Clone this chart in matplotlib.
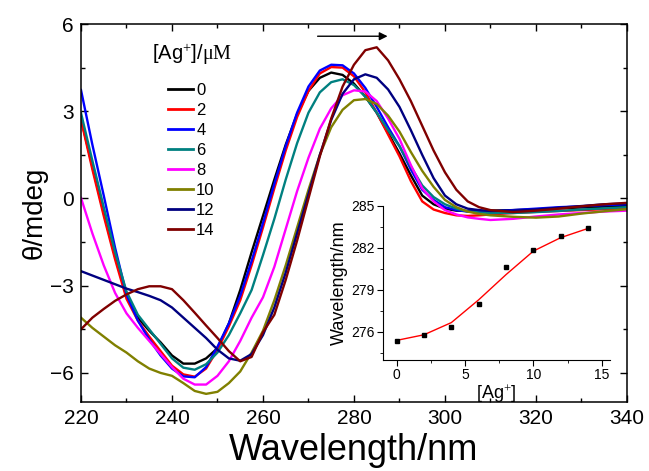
import matplotlib
matplotlib.use("Agg")
import matplotlib.pyplot as plt
from matplotlib.ticker import MultipleLocator

plt.rcParams['font.family'] = ['Liberation Sans', 'DejaVu Sans']
plt.rcParams['mathtext.fontset'] = 'custom'
plt.rcParams['mathtext.rm'] = 'Liberation Serif'
plt.rcParams['mathtext.it'] = 'Liberation Serif:italic'

# === data ===
wl = [220, 222.5, 225, 227.5, 230, 232.5, 235, 237.5, 240, 242.5, 245, 247.5, 250,
      252.5, 255, 257.5, 260, 262.5, 265, 267.5, 270, 272.5, 275, 277.5, 280,
      282.5, 285, 287.5, 290, 292.5, 295, 297.5, 300, 302.5, 305, 307.5, 310,
      315, 320, 325, 330, 335, 340]

cd_0 = [2.75, 1.1, -0.5, -2.0, -3.35, -4.1, -4.55, -4.95, -5.4, -5.68, -5.68, -5.5, -5.15,
        -4.3, -3.15, -1.85, -0.6, 0.65, 1.85, 2.9, 3.7, 4.15, 4.33, 4.25, 3.95,
        3.5, 2.95, 2.25, 1.55, 0.8, 0.1, -0.2, -0.35, -0.42, -0.43, -0.43, -0.42,
        -0.4, -0.37, -0.34, -0.31, -0.28, -0.25]
cd_2 = [2.7, 1.0, -0.6, -2.1, -3.45, -4.2, -4.75, -5.25, -5.75, -6.05, -6.13, -5.85, -5.2,
        -4.4, -3.5, -2.3, -1.0, 0.35, 1.65, 2.8, 3.7, 4.3, 4.52, 4.5, 4.2,
        3.65, 2.95, 2.2, 1.45, 0.6, -0.1, -0.38, -0.5, -0.58, -0.6, -0.58, -0.55,
        -0.5, -0.46, -0.43, -0.4, -0.37, -0.35]
cd_4 = [3.73, 1.85, 0.1, -1.7, -3.3, -4.2, -4.85, -5.4, -5.85, -6.12, -6.15, -5.8, -5.1,
        -4.3, -3.35, -2.15, -0.85, 0.5, 1.8, 2.95, 3.85, 4.4, 4.6, 4.58, 4.3,
        3.8, 3.15, 2.45, 1.8, 1.0, 0.3, -0.05, -0.3, -0.4, -0.45, -0.45, -0.45,
        -0.4, -0.35, -0.3, -0.27, -0.23, -0.2]
cd_6 = [2.94, 1.3, -0.3, -1.85, -3.2, -4.0, -4.5, -5.0, -5.5, -5.82, -5.89, -5.7, -5.3,
        -4.7, -3.95, -3.15, -1.95, -0.7, 0.65, 1.9, 2.95, 3.65, 4.0, 4.1, 3.9,
        3.5, 2.95, 2.35, 1.8, 1.1, 0.45, 0.05, -0.2, -0.35, -0.45, -0.48, -0.5,
        -0.5, -0.47, -0.43, -0.38, -0.34, -0.3]
cd_8 = [0.02, -1.2, -2.3, -3.25, -3.95, -4.45, -4.9, -5.35, -5.8, -6.2, -6.4, -6.4, -6.1,
        -5.6, -4.9, -4.1, -3.4, -2.35, -1.05, 0.25, 1.4, 2.4, 3.1, 3.55, 3.72,
        3.68, 3.35, 2.75, 2.05, 1.15, 0.35, -0.1, -0.4, -0.55, -0.65, -0.7, -0.74,
        -0.7, -0.62, -0.55, -0.5, -0.45, -0.42]
cd_10 = [-4.1, -4.45, -4.75, -5.05, -5.3, -5.6, -5.85, -6.0, -6.1, -6.35, -6.62, -6.72, -6.65,
         -6.35, -5.95, -5.3, -4.55, -3.5, -2.3, -1.0, 0.3, 1.5, 2.45, 3.05, 3.38,
         3.42, 3.25, 2.85, 2.3, 1.6, 0.95, 0.4, -0.05, -0.3, -0.45, -0.53, -0.58,
         -0.63, -0.66, -0.62, -0.52, -0.44, -0.37]
cd_12 = [-2.5, -2.65, -2.8, -2.95, -3.1, -3.22, -3.35, -3.5, -3.75, -4.1, -4.45, -4.8, -5.2,
         -5.5, -5.58, -5.35, -4.7, -3.75, -2.55, -1.2, 0.15, 1.5, 2.7, 3.6, 4.1,
         4.27, 4.15, 3.75, 3.15, 2.35, 1.5, 0.7, 0.1, -0.2, -0.35, -0.4, -0.43,
         -0.42, -0.38, -0.32, -0.26, -0.2, -0.17]
cd_14 = [-4.5, -4.1, -3.8, -3.52, -3.3, -3.12, -3.02, -3.02, -3.12, -3.5, -3.93, -4.37, -4.8,
         -5.25, -5.6, -5.45, -4.6, -4.0, -2.8, -1.45, 0.0, 1.45, 2.75, 3.85, 4.6,
         5.1, 5.2, 4.75, 4.1, 3.35, 2.5, 1.65, 0.9, 0.3, -0.1, -0.3, -0.4,
         -0.47, -0.42, -0.35, -0.27, -0.2, -0.15]

conc_labels = ["0", "2", "4", "6", "8", "10", "12", "14"]
colors = ["#000000", "#FF0000", "#0000FF", "#008080", "#FF00FF", "#808000", "#000080", "#800000"]

# inset: peak position vs [Ag+]
ag = [0, 2, 4, 6, 8, 10, 12, 14]
peak_wl = [275.37, 275.78, 276.38, 277.99, 280.63, 281.85, 282.86, 283.43]
peak_fit = [275.4, 275.8, 276.67, 278.3, 280.1, 281.78, 282.74, 283.4]

fig = plt.figure(figsize=(6.49, 4.71), dpi=100)
ax = fig.add_axes([0.1248, 0.1465, 0.8412, 0.8025])

for y, c, lab in zip([cd_0, cd_2, cd_4, cd_6, cd_8, cd_10, cd_12, cd_14], colors, conc_labels):
    ax.plot(wl, y, color=c, lw=1.7, label=lab)

ax.set_xlim(220, 340)
ax.set_ylim(-7, 6)
ax.xaxis.set_minor_locator(MultipleLocator(10))
ax.yaxis.set_minor_locator(MultipleLocator(1.5))
ax.tick_params(which='both', direction='in', top=True, right=True, width=1)
ax.tick_params(which='major', length=5, labelsize=15, pad=5)
ax.tick_params(which='minor', length=3)
ax.set_xticks([220, 240, 260, 280, 300, 320, 340])
ax.set_yticks([-6, -3, 0, 3, 6])
for s in ax.spines.values():
    s.set_linewidth(1.1)
ax.set_xlabel("Wavelength/nm", fontsize=26, labelpad=4)
ax.set_ylabel("θ/mdeg", fontsize=20, labelpad=2)

ax.annotate("", xy=(288, 5.58), xytext=(271.4, 5.58),
            arrowprops=dict(arrowstyle='-|>', color='k', lw=1, mutation_scale=12))

# legend title drawn separately, entries below it
ax.text(0.203, 0.92, "[Ag$^{+}$]/$\\mathrm{\\mu M}$", transform=ax.transAxes,
        fontsize=14.5, ha='center', va='center')
leg = ax.legend(loc='upper left', bbox_to_anchor=(0.159, 0.844), frameon=False,
                fontsize=12, handlelength=1.5, handletextpad=0.2, labelspacing=0.3,
                borderaxespad=0, borderpad=0)
for h in leg.get_lines():
    h.set_linewidth(2)

# inset
ins = fig.add_axes([0.590, 0.2357, 0.350, 0.327])
ins.patch.set_alpha(0)
ins.plot(ag, peak_fit, color='red', lw=1)
ins.plot(ag, peak_wl, 's', color='black', ms=3.5)
ins.set_xlim(-1, 15.6)
ins.set_ylim(274, 285)
ins.spines['top'].set_visible(False)
ins.spines['right'].set_visible(False)
ins.xaxis.set_major_locator(MultipleLocator(5))
ins.xaxis.set_minor_locator(MultipleLocator(2.5))
ins.set_yticks([276, 279, 282, 285])
ins.yaxis.set_minor_locator(MultipleLocator(1.5))
ins.tick_params(which='both', direction='out', labelsize=10, pad=2)
ins.tick_params(which='major', length=4)
ins.tick_params(which='minor', length=2.5)
ins.set_xlabel("[Ag$^{+}$]", fontsize=13, labelpad=0)
ins.set_ylabel("Wavelength/nm", fontsize=13, labelpad=2)

fig.savefig("out.png", dpi=100)
